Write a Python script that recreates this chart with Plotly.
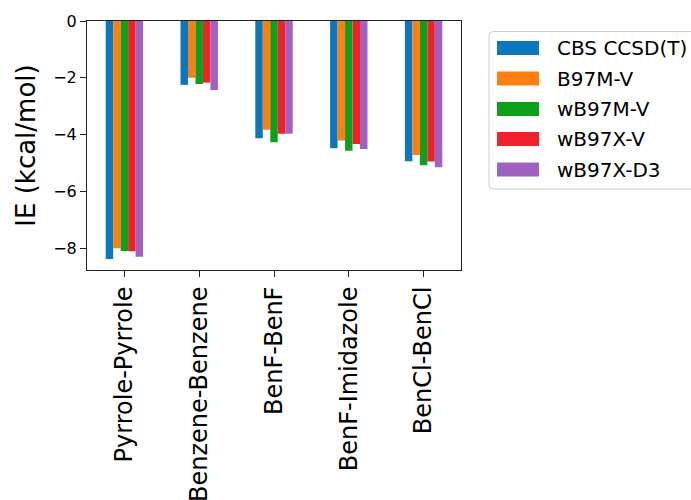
import plotly.graph_objects as go

categories = ["Pyrrole-Pyrrole", "Benzene-Benzene", "BenF-BenF", "BenF-Imidazole", "BenCl-BenCl"]
series_names = ["CBS CCSD(T)", "B97M-V", "wB97M-V", "wB97X-V", "wB97X-D3"]
cbs_ccsdt = [-8.38, -2.25, -4.13, -4.48, -4.94]
b97m_v = [-8.00, -2.00, -3.83, -4.21, -4.72]
wb97m_v = [-8.10, -2.22, -4.27, -4.57, -5.08]
wb97x_v = [-8.11, -2.17, -3.97, -4.33, -4.95]
wb97x_d3 = [-8.30, -2.43, -3.97, -4.51, -5.15]
y_ticks = [0, -2, -4, -6, -8]

series_values = [cbs_ccsdt, b97m_v, wb97m_v, wb97x_v, wb97x_d3]
colors = ["#0b77bd", "#ff7f0e", "#0ca01c", "#f0212b", "#a062c0"]

W, H = 691, 500
L, R, T, B = 87, 230, 21, 230
FONT = "DejaVu Sans"

fig = go.Figure()
for name, vals, col in zip(series_names, series_values, colors):
    fig.add_trace(go.Bar(x=categories, y=vals, name=name,
                         marker=dict(color=col, line=dict(width=0)),
                         showlegend=False))

# custom legend (matplotlib-style wide swatches)
pw = W - L - R
ph = H - T - B
def px(xp):
    return (xp - L) / pw
def py(yp):
    return (H - B - yp) / ph

shapes = []
annotations = []
bx0, bx1, by0, by1 = 489, 720, 31.5, 189
r = 4
path = (f"M {px(bx0 + r)},{py(by0)} L {px(bx1)},{py(by0)} L {px(bx1)},{py(by1)} "
        f"L {px(bx0 + r)},{py(by1)} Q {px(bx0)},{py(by1)} {px(bx0)},{py(by1 - r)} "
        f"L {px(bx0)},{py(by0 + r)} Q {px(bx0)},{py(by0)} {px(bx0 + r)},{py(by0)} Z")
shapes.append(dict(type="path", xref="paper", yref="paper", path=path,
                   line=dict(color="#cccccc", width=1), fillcolor="white"))
row_y = [48, 78.5, 109, 139, 169.5]
for name, col, yc in zip(series_names, colors, row_y):
    shapes.append(dict(type="rect", xref="paper", yref="paper",
                       x0=px(497), x1=px(539), y0=py(yc - 7), y1=py(yc + 7),
                       fillcolor=col, line=dict(width=0)))
    annotations.append(dict(xref="paper", yref="paper", x=px(555), y=py(yc),
                            xanchor="left", yanchor="middle", text=name,
                            showarrow=False, font=dict(family=FONT, size=20, color="black")))

fig.update_layout(
    width=W, height=H,
    margin=dict(l=L, r=R, t=T, b=B, autoexpand=False),
    paper_bgcolor="white", plot_bgcolor="white",
    barmode="group", bargap=0.5, bargroupgap=0,
    font=dict(family=FONT, color="black"),
    shapes=shapes, annotations=annotations,
)
fig.update_xaxes(
    range=[-0.5, 4.5], showline=True, mirror=True, linecolor="#222222", linewidth=1,
    ticks="outside", ticklen=6, tickcolor="#222222", tickangle=-90,
    tickfont=dict(family=FONT, size=24, color="black"), showgrid=False, zeroline=False,
)
fig.update_yaxes(
    range=[-8.77, 0], tickvals=y_ticks, showline=True, mirror=True, linecolor="#222222",
    linewidth=1, ticks="outside", ticklen=6, tickcolor="#222222",
    tickfont=dict(family=FONT, size=16, color="black"), showgrid=False, zeroline=False,
    title=dict(text="IE (kcal/mol)", font=dict(family=FONT, size=26, color="black"), standoff=10),
)

fig.write_html("out.html")
